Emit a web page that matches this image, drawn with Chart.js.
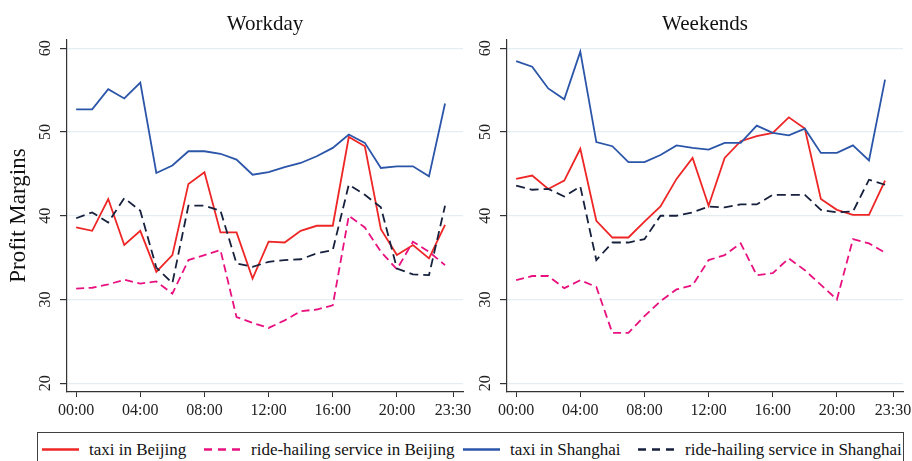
<!DOCTYPE html>
<html>
<head>
<meta charset="utf-8">
<script src="https://cdn.jsdelivr.net/npm/chart.js@4.4.0/dist/chart.umd.min.js"></script>
<style>
  body { margin: 0; width: 912px; height: 461px; overflow: hidden; background: #fff; position: relative; font-family: "Liberation Serif", "Times New Roman", serif; }
  canvas { position: absolute; top: 0; }
  #left { left: 0; }
  #right { left: 462px; }
  #legend { position: absolute; left: 37px; top: 432px; width: 865px; height: 40px; border: 1px solid #404040; }
  .sample { position: absolute; top: 14px; }
  .label { position: absolute; top: 7px; font-size: 17px; line-height: 20px; color: #111; white-space: nowrap; }
</style>
</head>
<body>
<canvas id="left" width="480" height="425"></canvas>
<canvas id="right" width="470" height="425"></canvas>
<div id="legend"></div>
<script>
// hours of the day (x values) and axis ticks
const hours = [0,1,2,3,4,5,6,7,8,9,10,11,12,13,14,15,16,17,18,19,20,21,22,23]
const xTicks = [0, 4, 8, 12, 16, 20, 23.5]
const yTicks = [20, 30, 40, 50, 60]

const seriesNames = ['taxi in Beijing', 'ride-hailing service in Beijing', 'taxi in Shanghai', 'ride-hailing service in Shanghai']

// Workday profit margins
const wdTaxiBJ = [38.6, 38.2, 42.0, 36.5, 38.2, 33.3, 35.3, 43.8, 45.2, 38.0, 38.0, 32.5, 36.9, 36.8, 38.2, 38.8, 38.8, 49.4, 48.3, 38.4, 35.3, 36.5, 34.9, 38.9]
const wdRideBJ = [31.3, 31.4, 31.8, 32.35, 31.9, 32.15, 30.7, 34.7, 35.3, 35.9, 27.9, 27.2, 26.6, 27.5, 28.6, 28.8, 29.3, 40.0, 38.6, 35.7, 33.6, 36.9, 35.7, 34.1]
const wdTaxiSH = [52.7, 52.7, 55.1, 54.0, 55.9, 45.1, 46.0, 47.7, 47.7, 47.4, 46.7, 44.9, 45.2, 45.8, 46.3, 47.1, 48.1, 49.7, 48.7, 45.7, 45.9, 45.9, 44.7, 53.4]
const wdRideSH = [39.7, 40.4, 39.2, 42.1, 40.6, 33.8, 31.95, 41.2, 41.2, 40.6, 34.3, 33.9, 34.5, 34.7, 34.8, 35.5, 35.9, 43.7, 42.5, 41.0, 33.7, 33.0, 32.9, 41.2]

// Weekend profit margins
const weTaxiBJ = [44.4, 44.8, 43.2, 44.2, 48.0, 39.4, 37.4, 37.4, 39.3, 41.1, 44.4, 46.9, 41.2, 46.9, 48.9, 49.5, 49.9, 51.75, 50.4, 42.0, 40.7, 40.1, 40.1, 44.2]
const weRideBJ = [32.3, 32.8, 32.8, 31.35, 32.3, 31.5, 26.0, 26.0, 28.0, 29.8, 31.2, 31.7, 34.7, 35.3, 36.7, 32.9, 33.15, 34.9, 33.5, 31.75, 30.0, 37.2, 36.7, 35.6]
const weTaxiSH = [58.45, 57.8, 55.2, 53.9, 59.6, 48.8, 48.3, 46.4, 46.4, 47.25, 48.4, 48.1, 47.9, 48.7, 48.7, 50.75, 49.9, 49.6, 50.4, 47.5, 47.5, 48.4, 46.6, 56.25]
const weRideSH = [43.6, 43.1, 43.2, 42.3, 43.5, 34.7, 36.8, 36.8, 37.2, 40.0, 40.0, 40.4, 41.1, 41.0, 41.35, 41.35, 42.5, 42.5, 42.5, 40.7, 40.4, 40.5, 44.3, 43.7]

const styles = [
    { color: '#ee2626', dash: [] },
    { color: '#e8117f', dash: [8, 4.5] },
    { color: '#2b55a8', dash: [] },
    { color: '#17213d', dash: [9, 5] }
]
const legendX = [4, 166, 425, 600]
const FONT = '"Liberation Serif", "Times New Roman", serif'

function fmtHour(v) {
    const h = Math.floor(v)
    const m = Math.round((v - h) * 60)
    return String(h).padStart(2, '0') + ':' + String(m).padStart(2, '0')
}

function makePanel(id, title, series, yTitle, yWidth, padRight) {
    const datasets = series.map(function (vals, i) {
        return {
            label: seriesNames[i],
            data: hours.map(function (h, j) { return { x: h, y: vals[j] } }),
            borderColor: styles[i].color,
            borderDash: styles[i].dash,
            borderWidth: 1.8,
            pointRadius: 0,
            tension: 0,
            order: 4 - i
        }
    })
    new Chart(document.getElementById(id), {
        type: 'line',
        data: { datasets: datasets },
        options: {
            responsive: false,
            animation: false,
            devicePixelRatio: 1,
            layout: { padding: { left: 0, right: padRight, top: 0, bottom: 0 } },
            plugins: {
                legend: { display: false },
                tooltip: { enabled: false },
                title: {
                    display: true, text: title, fullSize: false, color: '#111',
                    font: { family: FONT, size: 21, weight: 'normal' },
                    padding: { top: 12, bottom: 2 }
                }
            },
            scales: {
                x: {
                    type: 'linear', min: -0.57, max: 24.12,
                    afterBuildTicks: function (s) { s.ticks = xTicks.map(function (v) { return { value: v } }) },
                    afterFit: function (s) { s.height = 33 },
                    ticks: { color: '#222', font: { family: FONT, size: 16 }, padding: 4, maxRotation: 0, callback: fmtHour },
                    grid: { drawOnChartArea: false, tickLength: 5, tickColor: '#333' },
                    border: { color: '#333', width: 1.2 }
                },
                y: {
                    min: 18.95, max: 61.08,
                    afterBuildTicks: function (s) { s.ticks = yTicks.map(function (v) { return { value: v } }) },
                    afterFit: function (s) { s.width = yWidth },
                    ticks: { color: '#222', font: { family: FONT, size: 16 }, padding: 6, minRotation: 90, maxRotation: 90, crossAlign: 'center' },
                    grid: { color: '#e4edf1', lineWidth: 1.2, tickLength: 7, tickColor: '#333' },
                    border: { color: '#333', width: 1.2 },
                    title: {
                        display: yTitle, text: 'Profit Margins', color: '#111',
                        font: { family: FONT, size: 23 }, padding: { top: 5, bottom: 0 }
                    }
                }
            }
        }
    })
}

makePanel('left', 'Workday', [wdTaxiBJ, wdRideBJ, wdTaxiSH, wdRideSH], true, 67, 17)
makePanel('right', 'Weekends', [weTaxiBJ, weRideBJ, weTaxiSH, weRideSH], false, 45, 29)

// legend shared by both panels
const legend = document.getElementById('legend')
seriesNames.forEach(function (name, i) {
    const svgNS = 'http://www.w3.org/2000/svg'
    const svg = document.createElementNS(svgNS, 'svg')
    svg.setAttribute('class', 'sample')
    svg.setAttribute('width', '37')
    svg.setAttribute('height', '5')
    svg.style.left = legendX[i] + 'px'
    const line = document.createElementNS(svgNS, 'line')
    line.setAttribute('x1', '0'); line.setAttribute('x2', '37')
    line.setAttribute('y1', '2.5'); line.setAttribute('y2', '2.5')
    line.setAttribute('stroke', styles[i].color)
    line.setAttribute('stroke-width', '2.6')
    if (styles[i].dash.length) line.setAttribute('stroke-dasharray', '8 6')
    svg.appendChild(line)
    legend.appendChild(svg)
    const span = document.createElement('span')
    span.className = 'label'
    span.style.left = (legendX[i] + 47) + 'px'
    span.textContent = name
    legend.appendChild(span)
})
</script>
</body>
</html>
